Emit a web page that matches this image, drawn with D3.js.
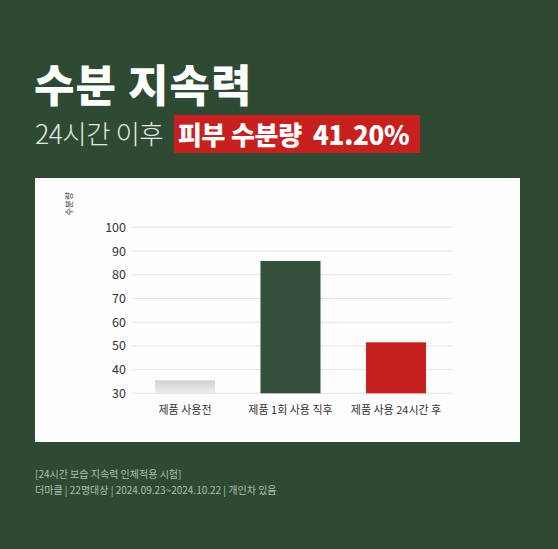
<html>
<head>
<meta charset="utf-8" />
<title>수분 지속력</title>
<script src="https://cdn.jsdelivr.net/npm/d3@7/dist/d3.min.js"></script>
<style>
body { margin: 0; background: #2e4a32; }
text { font-family: "Noto Sans CJK KR", "Noto Sans", sans-serif; }
</style>
</head>
<body>
<script>
// data
var categories = ["제품 사용전", "제품 1회 사용 직후", "제품 사용 24시간 후"];
var values = [35.5, 85.8, 51.5];
var barColors = ["url(#grayGrad)", "#33513a", "#c8201f"];
var yTicks = [30, 40, 50, 60, 70, 80, 90, 100];
var yLabel = "수분량";
var title = "수분 지속력";
var subtitle = "24시간 이후";
var highlight = "피부 수분량\u00a0\u00a041.20%";
var notes = ["[24시간 보습 지속력 인체적용 시험]", "더마클 | 22명대상 | 2024.09.23~2024.10.22 | 개인차 있음"];

var W = 558, H = 549;

var svg = d3.select("body").append("svg")
	.attr("width", W).attr("height", H).style("display", "block");

svg.append("rect").attr("width", W).attr("height", H).attr("fill", "#2e4a32");

var defs = svg.append("defs");
var g1 = defs.append("linearGradient").attr("id", "grayGrad")
	.attr("x1", 0).attr("y1", 0).attr("x2", 0).attr("y2", 1);
g1.append("stop").attr("offset", "0%").attr("stop-color", "#d2d2d2");
g1.append("stop").attr("offset", "100%").attr("stop-color", "#ececec");

// title block
svg.append("text").attr("x", 34).attr("y", 102)
	.attr("fill", "#ffffff").attr("font-size", "44px").attr("font-weight", 900)
	.attr("letter-spacing", "1px")
	.text(title);

svg.append("text").attr("x", 35).attr("y", 144)
	.attr("fill", "#e4e8e2").attr("font-size", "26.5px").attr("font-weight", 300)
	.attr("letter-spacing", "-0.5px")
	.text(subtitle);

svg.append("rect").attr("x", 174).attr("y", 115).attr("width", 246).attr("height", 38)
	.attr("fill", "#c8201f");
svg.append("text").attr("x", 178).attr("y", 145)
	.attr("fill", "#ffffff").attr("font-size", "26px").attr("font-weight", 900)
	.attr("letter-spacing", "-0.3px")
	.text(highlight);

// white panel
svg.append("rect").attr("x", 35).attr("y", 178).attr("width", 485).attr("height", 264)
	.attr("fill", "#fdfdfd");

var yScale = d3.scaleLinear().domain([30, 100]).range([393.3, 227.3]);
var xScale = d3.scaleBand().domain(categories).range([132, 449])
	.paddingInner(0.431).paddingOuter(0.218);

var chart = svg.append("g");

chart.selectAll(".grid").data(yTicks).enter().append("line")
	.attr("class", "grid")
	.attr("x1", 132).attr("x2", 453)
	.attr("y1", d => yScale(d)).attr("y2", d => yScale(d))
	.attr("stroke", "#e4e4e4").attr("stroke-width", 1);

var yAxis = chart.append("g").attr("transform", "translate(126,0)")
	.call(d3.axisLeft(yScale).tickValues(yTicks).tickSize(0).tickPadding(0));
yAxis.select(".domain").remove();
yAxis.selectAll("text").attr("font-size", "12.5px").attr("fill", "#333")
	.attr("font-family", "'Noto Sans CJK KR', sans-serif");

chart.selectAll(".bar").data(values).enter().append("rect")
	.attr("class", "bar")
	.attr("x", (d, i) => xScale(categories[i]))
	.attr("width", xScale.bandwidth())
	.attr("y", d => yScale(d))
	.attr("height", d => yScale(30) - yScale(d))
	.attr("fill", (d, i) => barColors[i]);

var xAxis = chart.append("g").attr("transform", "translate(0," + yScale(30) + ")")
	.call(d3.axisBottom(xScale).tickSize(0).tickPadding(13));
xAxis.select(".domain").remove();
xAxis.selectAll("text").attr("font-size", "11px").attr("fill", "#333")
	.attr("font-family", "'Noto Sans CJK KR', sans-serif");

svg.append("text")
	.attr("transform", "translate(72,204) rotate(-90)")
	.attr("text-anchor", "middle")
	.attr("font-size", "8.5px").attr("fill", "#333")
	.text(yLabel);

// footnote
svg.selectAll(".note").data(notes).enter().append("text")
	.attr("class", "note")
	.attr("x", 35).attr("y", (d, i) => 478 + i * 16)
	.attr("font-size", "10px").attr("fill", "#b3bdb0")
	.text(d => d);
</script>
</body>
</html>
